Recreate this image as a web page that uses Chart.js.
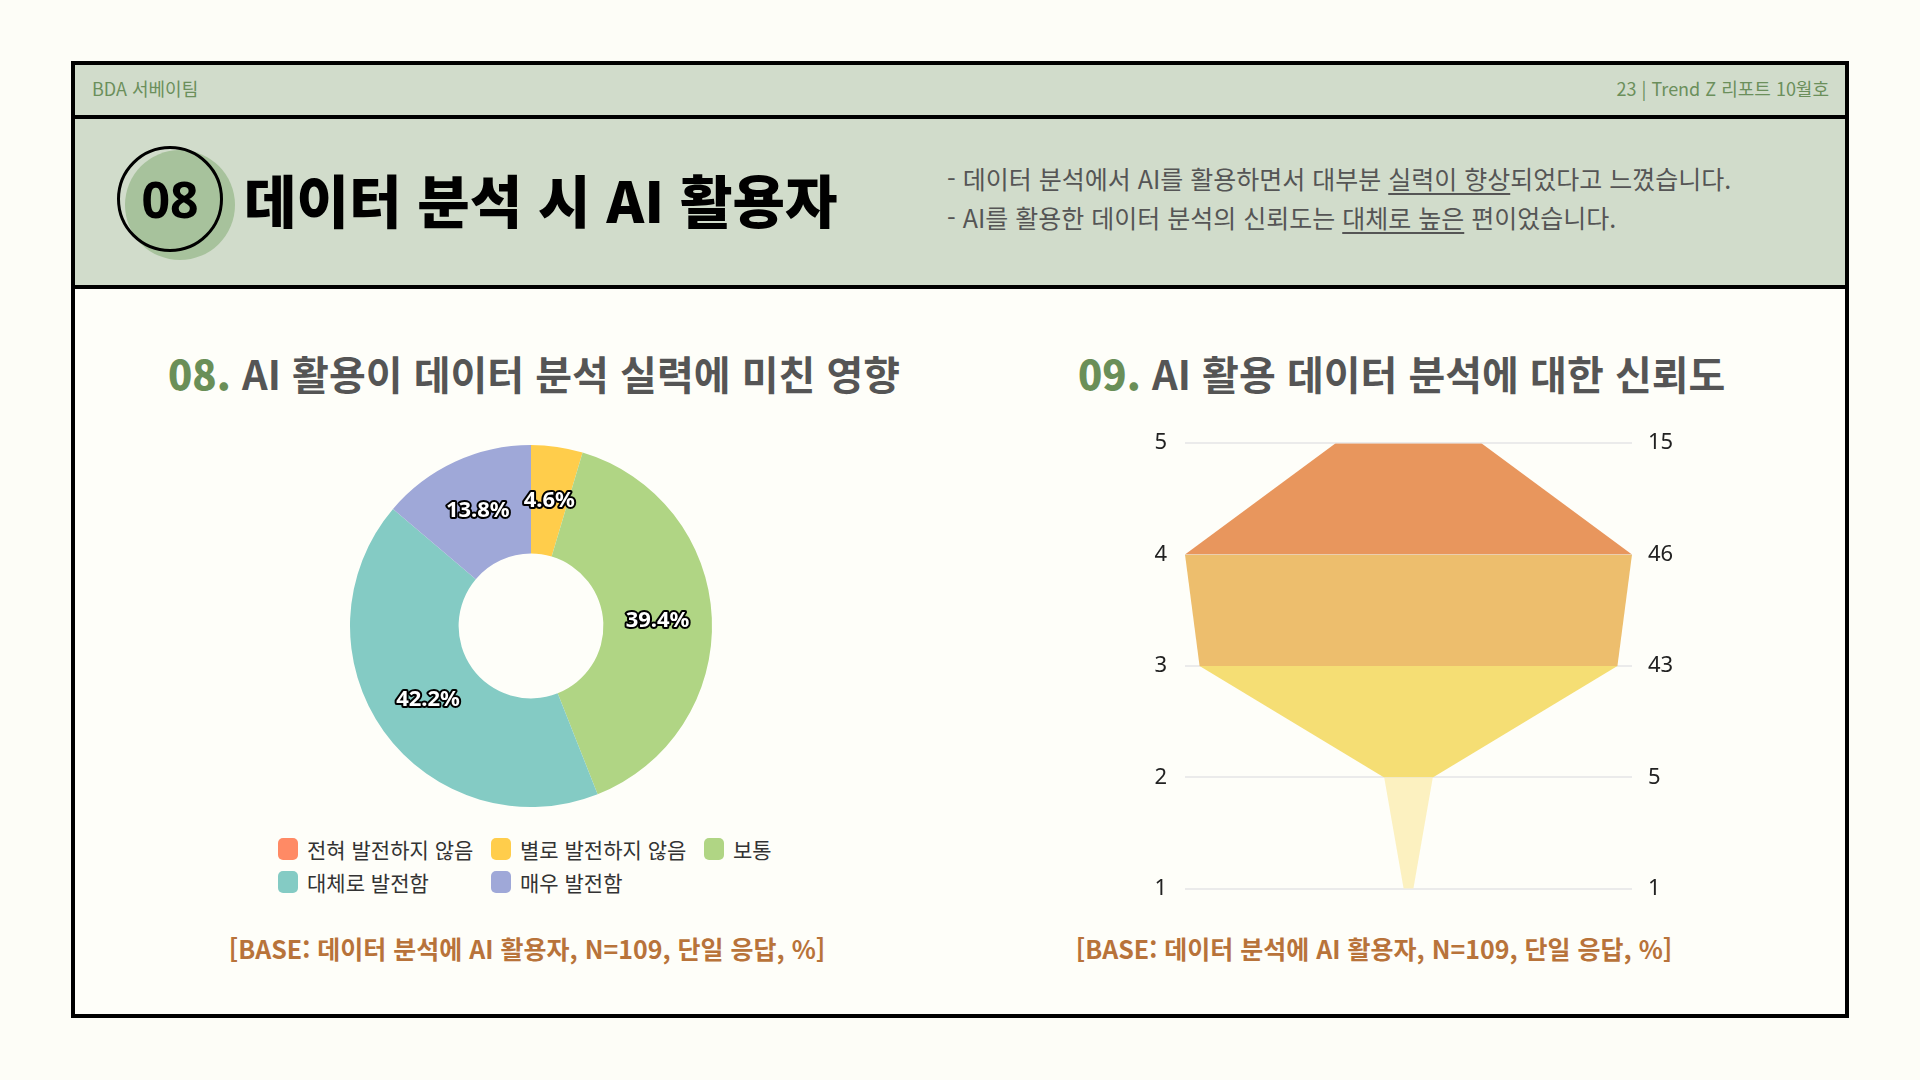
<!DOCTYPE html>
<html lang="ko">
<head>
<meta charset="utf-8">
<script src="https://cdn.jsdelivr.net/npm/chart.js"></script>
<style>
  body { margin: 0; width: 1920px; height: 1080px; background: #fdfdf7; position: relative; overflow: hidden;
         font-family: "Noto Sans CJK KR", "Noto Sans", sans-serif; }
  .frame { position: absolute; left: 71px; top: 61px; width: 1770px; height: 949px; border: 4px solid #000; background: #fefef9; }
  .topbar { position: absolute; left: 0; top: 0; width: 100%; height: 50px; background: #d1dccb; border-bottom: 4px solid #000; }
  .topbar span { position: absolute; top: 10px; font-size: 18px; color: #6b8f5b; }
  .band { position: absolute; left: 0; top: 54px; width: 100%; height: 166px; background: #d1dccb; border-bottom: 4px solid #000; }
  .abs { position: absolute; white-space: nowrap; }
  .ctitle { font-size: 40px; font-weight: 700; color: #555; }
  .ctitle b { color: #6a8f58; }
  .note { font-size: 25px; font-weight: 700; color: #b8733a; }
  .legend { position: absolute; left: 278px; top: 834px; width: 660px; }
  .legend .item { position: absolute; display: flex; align-items: center; font-size: 21px; color: #333; }
  .legend .box { width: 20px; height: 22px; border-radius: 5px; margin-right: 9px; }
</style>
</head>
<body>
<div class="frame">
  <div class="topbar">
    <span style="left:17px">BDA 서베이팀</span>
    <span style="right:16px">23 | Trend Z 리포트 10월호</span>
  </div>
  <div class="band"></div>
</div>

<!-- badge -->
<div class="abs" style="left:125px;top:150px;width:110px;height:110px;border-radius:50%;background:#a7c29c;"></div>
<div class="abs" style="left:117px;top:146px;width:106px;height:106px;border-radius:50%;border:3px solid #000;box-sizing:border-box;
     display:flex;align-items:center;justify-content:center;font-family:'Noto Sans',sans-serif;font-weight:700;font-size:50px;color:#000;">08</div>
<div class="abs" style="left:244px;top:158px;font-size:57px;font-weight:800;color:#000;line-height:80px;">데이터 분석 시 AI 활용자</div>

<div class="abs" style="left:947px;top:160px;font-size:25px;color:#555;">- 데이터 분석에서 AI를 활용하면서 대부분 <u style="text-underline-offset:4px">실력이 향상</u>되었다고 느꼈습니다.</div>
<div class="abs" style="left:947px;top:199px;font-size:25px;color:#555;">- AI를 활용한 데이터 분석의 신뢰도는 <u style="text-underline-offset:4px">대체로 높은</u> 편이었습니다.</div>

<div class="abs ctitle" style="left:168px;top:344px;"><b>08.</b> AI 활용이 데이터 분석 실력에 미친 영향</div>
<div class="abs ctitle" style="left:1078px;top:344px;"><b>09.</b> AI 활용 데이터 분석에 대한 신뢰도</div>

<div class="abs" style="left:331px;top:426px;width:400px;height:400px;"><canvas id="donut"></canvas></div>
<div class="legend" id="legend"></div>

<div class="abs" style="left:1100px;top:412px;width:600px;height:508px;"><canvas id="funnel"></canvas></div>

<div class="abs note" style="left:527px;top:930px;transform:translateX(-50%);">[BASE: 데이터 분석에 AI 활용자, N=109, 단일 응답, %]</div>
<div class="abs note" style="left:1374px;top:930px;transform:translateX(-50%);">[BASE: 데이터 분석에 AI 활용자, N=109, 단일 응답, %]</div>

<script>
// 08. 실력 향상 (단일 응답, %)
const skillLabels = ['전혀 발전하지 않음', '별로 발전하지 않음', '보통', '대체로 발전함', '매우 발전함'];
const skillValues = [0, 4.6, 39.4, 42.2, 13.8];
const skillColors = ['#ff8a65', '#ffcd4b', '#b0d584', '#84cbc4', '#9fa8d8'];

// 09. 신뢰도 (척도 5 -> 1, 응답 수)
const trustLevels = [5, 4, 3, 2, 1];
const trustValues = [15, 46, 43, 5, 1];
const trustColors = ['#e8965d', '#edbe6d', '#f5de74', '#fcf1c0'];

// legend (two rows, fixed columns)
const legendEl = document.getElementById('legend');
skillLabels.forEach(function(label, i) {
  const item = document.createElement('div');
  item.className = 'item';
  item.style.left = (i % 3) * 213 + 'px';
  item.style.top = Math.floor(i / 3) * 33 + 'px';
  item.innerHTML = '<span class="box" style="background:' + skillColors[i] + '"></span>' + label;
  legendEl.appendChild(item);
});

const arcLabels = {
  id: 'arcLabels',
  afterDatasetsDraw(chart) {
    const ctx = chart.ctx;
    const meta = chart.getDatasetMeta(0);
    ctx.save();
    ctx.font = 'bold 22px "Noto Sans", sans-serif';
    ctx.textAlign = 'center';
    ctx.textBaseline = 'middle';
    ctx.lineJoin = 'round';
    meta.data.forEach(function(arc, i) {
      const v = skillValues[i];
      if (!v) return;
      const p = arc.tooltipPosition();
      const txt = v.toFixed(1) + '%';
      ctx.lineWidth = 4;
      ctx.strokeStyle = '#000';
      ctx.strokeText(txt, p.x, p.y);
      ctx.fillStyle = '#fff';
      ctx.fillText(txt, p.x, p.y);
    });
    ctx.restore();
  }
};

new Chart(document.getElementById('donut'), {
  type: 'doughnut',
  data: {
    labels: skillLabels,
    datasets: [{ data: skillValues, backgroundColor: skillColors, borderWidth: 0 }]
  },
  options: {
    responsive: true,
    maintainAspectRatio: false,
    animation: false,
    cutout: '40%',
    layout: { padding: 19 },
    plugins: { legend: { display: false }, tooltip: { enabled: false } }
  },
  plugins: [arcLabels]
});

// funnel: one band per pair of neighbouring levels, right edge + left edge filled together
const funnelSets = [];
for (let i = 0; i < trustLevels.length - 1; i++) {
  const lo = i + 1, hi = i;
  funnelSets.push({
    data: [{ x: trustValues[lo] / 2, y: trustLevels[lo] }, { x: trustValues[hi] / 2, y: trustLevels[hi] }],
    borderWidth: 0, pointRadius: 0, fill: false, tension: 0
  });
  funnelSets.push({
    data: [{ x: -trustValues[lo] / 2, y: trustLevels[lo] }, { x: -trustValues[hi] / 2, y: trustLevels[hi] }],
    borderWidth: 0, pointRadius: 0, fill: '-1', backgroundColor: trustColors[i], tension: 0
  });
}
const maxTrust = Math.max(...trustValues);

new Chart(document.getElementById('funnel'), {
  type: 'line',
  data: { datasets: funnelSets },
  options: {
    responsive: true,
    maintainAspectRatio: false,
    animation: false,
    indexAxis: 'y',
    layout: { padding: { top: 21, bottom: 23, left: 0, right: 0 } },
    scales: {
      x: { type: 'linear', min: -maxTrust / 2, max: maxTrust / 2, display: false },
      y: {
        type: 'linear', position: 'left', min: 1, max: 5,
        afterFit(scale) { scale.width = 85; },
        ticks: { stepSize: 1, padding: 18, color: '#222', font: { size: 22, family: '"Noto Sans", sans-serif' } },
        grid: { color: '#ebebeb', lineWidth: 2, drawTicks: false },
        border: { display: false }
      },
      y2: {
        type: 'linear', position: 'right', min: 1, max: 5,
        afterFit(scale) { scale.width = 68; },
        ticks: {
          stepSize: 1, padding: 16, color: '#222', font: { size: 22, family: '"Noto Sans", sans-serif' },
          callback: function(v) { const k = trustLevels.indexOf(v); return k < 0 ? '' : trustValues[k]; }
        },
        grid: { display: false, drawTicks: false },
        border: { display: false }
      }
    },
    plugins: { legend: { display: false }, tooltip: { enabled: false } }
  }
});
</script>
</body>
</html>
